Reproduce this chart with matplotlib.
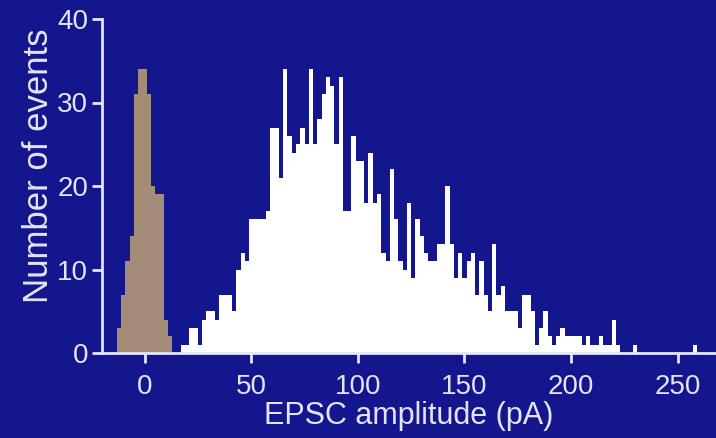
import numpy as np
import matplotlib
matplotlib.use('Agg')
import matplotlib.pyplot as plt

# гистограмма шума (коричневая), бины по 2 пА
noise_start = -13
noise_counts = [3, 7, 11, 14, 31, 34, 34, 31, 20, 19, 19, 4, 2]

# гистограмма амплитуд EPSC (белая), бины по 2 пА
epsc_start = 13
epsc_counts = [
    0, 0, 1, 1, 3, 3, 1, 4, 5, 5,          # 14..32
    4, 7, 7, 7, 5, 10, 12, 11, 16, 16,     # 34..52
    16, 16, 17, 27, 27, 21, 34, 26, 24, 25,  # 54..72
    27, 25, 34, 25, 28, 31, 33, 32, 25, 33,  # 74..92
    17, 17, 26, 23, 23, 18, 24, 18, 19, 12,  # 94..112
    11, 22, 16, 11, 10, 18, 9, 16, 14, 12,   # 114..132
    11, 11, 13, 13, 20, 13, 9, 12, 9, 11,    # 134..152
    12, 7, 11, 7, 5, 13, 7, 8, 5, 5,         # 154..172
    5, 3, 7, 7, 5, 1, 3, 5, 2, 1,            # 174..192
    2, 3, 2, 2, 2, 2, 1, 2, 1, 1,            # 194..212
    2, 1, 1, 4, 1, 0, 0, 0, 1, 0,            # 214..232
    0, 0, 0, 0, 0, 0, 0, 0, 0, 0,            # 234..252
    0, 0, 1,                                 # 254..258
]
bin_width = 2

x_ticks = [0, 50, 100, 150, 200, 250]
y_ticks = [0, 10, 20, 30, 40]

bg = '#13168c'
fg = '#e4e4fa'
brown = '#a38d79'

plt.rcParams['font.family'] = ['Liberation Sans', 'DejaVu Sans']

fig = plt.figure(figsize=(7.16, 4.38), dpi=100, facecolor=bg)
ax = fig.add_axes([102 / 716, 85 / 438, 1 - 102 / 716, 334 / 438])
ax.set_facecolor(bg)

epsc_x = epsc_start + bin_width / 2 + bin_width * np.arange(len(epsc_counts))
noise_x = noise_start + bin_width / 2 + bin_width * np.arange(len(noise_counts))

ax.bar(epsc_x, epsc_counts, width=bin_width, color='white', linewidth=0, zorder=2)
ax.bar(noise_x, noise_counts, width=bin_width, color=brown, linewidth=0, zorder=3)

ax.set_xlim(-20, 268)
ax.set_ylim(0, 40)
ax.set_xticks(x_ticks)
ax.set_yticks(y_ticks)

for side in ['top', 'right']:
    ax.spines[side].set_visible(False)
for side in ['left', 'bottom']:
    ax.spines[side].set_color(fg)
    ax.spines[side].set_linewidth(2)
ax.spines['bottom'].set_zorder(4)

ax.tick_params(colors=fg, width=2, length=7, labelsize=20)
ax.tick_params(axis='x', pad=8)
ax.tick_params(axis='y', pad=3)

ax.set_xlabel('EPSC amplitude (pA)', color=fg, fontsize=22, labelpad=1)
ax.set_ylabel('Number of events', color=fg, fontsize=25)
ax.yaxis.set_label_coords(-0.077, 0.56)

plt.savefig('out.png', dpi=100, facecolor=bg)
